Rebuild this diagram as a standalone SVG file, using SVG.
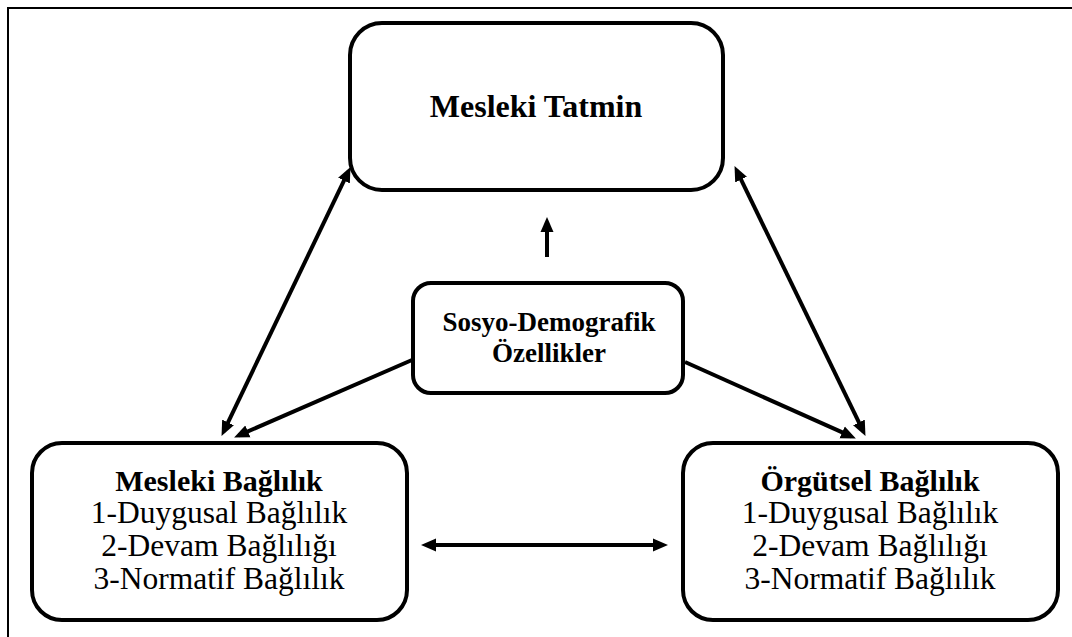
<svg xmlns="http://www.w3.org/2000/svg" width="1072" height="637" viewBox="0 0 1072 637">
<style>
.box{fill:#fff;stroke:#000;stroke-width:4}
.t{fill:#000;text-anchor:middle}
.b{font-weight:bold}
.c{stroke:#000;stroke-width:4;fill:none}
</style>
<defs>
<marker id="ah" markerUnits="userSpaceOnUse" markerWidth="15" markerHeight="14" refX="10" refY="7" orient="auto-start-reverse" viewBox="0 0 15 14">
<path d="M0,0.5 L15,7 L0,13.5 z" fill="#000"/>
</marker>
</defs>
<rect width="1072" height="637" fill="#fff"/>
<path d="M8 637 V8 H1072" stroke="#000" stroke-width="2" fill="none"/>
<g id="connectors">
<line class="c" x1="223.7" y1="431.4" x2="348.3" y2="171.6" marker-start="url(#ah)" marker-end="url(#ah)"/>
<line class="c" x1="736.7" y1="170.6" x2="863.3" y2="431.4" marker-start="url(#ah)" marker-end="url(#ah)"/>
<line class="c" x1="412" y1="360" x2="238.7" y2="435.4" marker-end="url(#ah)"/>
<line class="c" x1="685" y1="362" x2="851.3" y2="436.4" marker-end="url(#ah)"/>
<line class="c" x1="547" y1="257" x2="547" y2="222" marker-end="url(#ah)"/>
<line class="c" x1="426" y1="545" x2="663" y2="545" marker-start="url(#ah)" marker-end="url(#ah)"/>
</g>
<g font-family="Liberation Serif, Times New Roman, Times, serif">
<g id="mesleki-tatmin">
<rect class="box" x="350" y="23" width="373" height="167" rx="32"/>
<text class="t b" x="536" y="117" font-size="32">Mesleki Tatmin</text>
</g>
<g id="sosyo-demografik">
<rect class="box" x="413" y="283" width="270" height="110" rx="18"/>
<text class="t b" x="549" y="331" font-size="27">Sosyo-Demografik</text>
<text class="t b" x="549" y="362" font-size="27">Özellikler</text>
</g>
<g id="mesleki-baglilik">
<rect class="box" x="32" y="443" width="375" height="177" rx="30"/>
<text class="t b" x="219" y="491" font-size="30">Mesleki Bağlılık</text>
<text class="t" x="219" y="523" font-size="31.5">1-Duygusal Bağlılık</text>
<text class="t" x="219" y="556" font-size="31.5">2-Devam Bağlılığı</text>
<text class="t" x="219" y="589" font-size="31.5">3-Normatif Bağlılık</text>
</g>
<g id="orgutsel-baglilik">
<rect class="box" x="683" y="443" width="375" height="177" rx="30"/>
<text class="t b" x="870" y="491" font-size="30">Örgütsel Bağlılık</text>
<text class="t" x="870" y="523" font-size="31.5">1-Duygusal Bağlılık</text>
<text class="t" x="870" y="556" font-size="31.5">2-Devam Bağlılığı</text>
<text class="t" x="870" y="589" font-size="31.5">3-Normatif Bağlılık</text>
</g>
</g>
</svg>
